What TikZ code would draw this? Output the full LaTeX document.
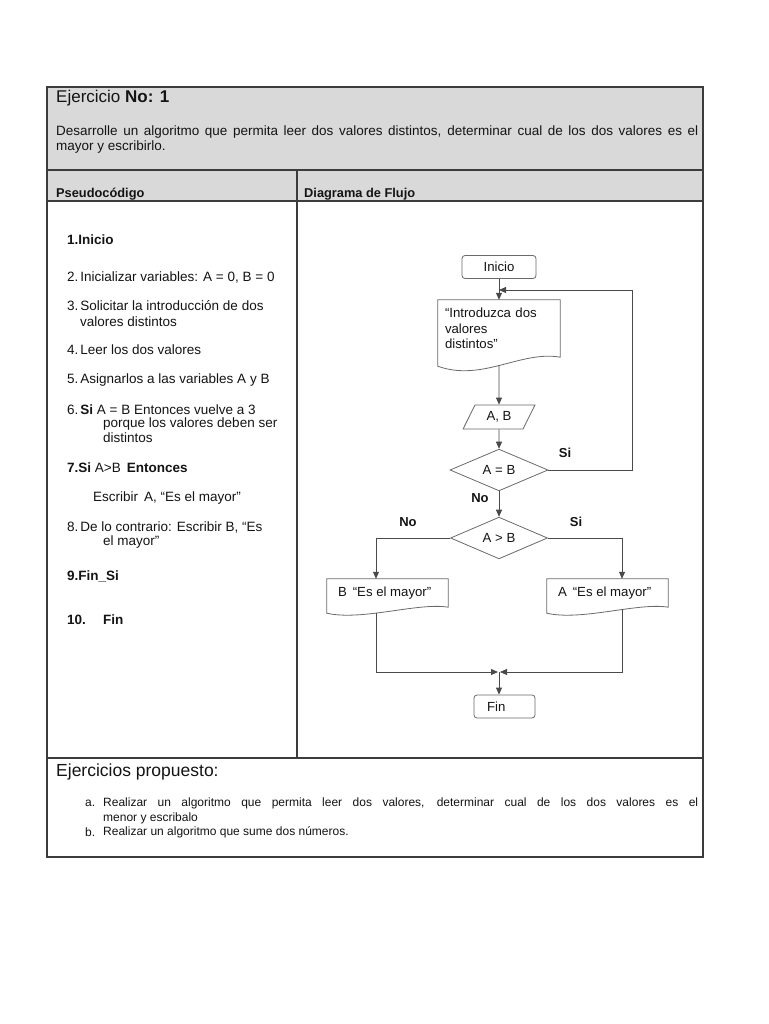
\documentclass[tikz,border=0pt]{standalone}
\usepackage{fontspec}
\setmainfont{Liberation Sans}
\usetikzlibrary{arrows.meta,shapes.geometric}
\definecolor{hdr}{HTML}{D9D9D9}
\definecolor{bord}{HTML}{3C3C3C}
\definecolor{ink}{HTML}{141414}
\definecolor{fl}{HTML}{4A4A4A}
\definecolor{sh}{HTML}{6A6A6A}
\begin{document}
\begin{tikzpicture}[x=1pt,y=-1pt,
  txt/.style={inner sep=0pt, anchor=west, text=ink},
  ps/.style={txt, font=\fontsize{13.5}{15}\selectfont},
  fct/.style={font=\fontsize{13.2}{15.5}\selectfont, text=ink},
  box/.style={draw=sh, line width=0.8pt, rounded corners=3pt, minimum height=23pt, inner sep=0pt, fct},
  dec/.style={draw=sh, line width=0.8pt, shape=diamond, inner sep=0pt, fct},
  io/.style={draw=sh, line width=0.8pt, trapezium, trapezium left angle=60, trapezium right angle=120, trapezium stretches=true, inner sep=0pt, fct},
  docn/.style={inner sep=0pt, fct},
  docline/.style={draw=sh, line width=0.8pt},
  arr/.style={draw=fl, line width=0.8pt, -{Triangle[length=7pt,width=6pt]}},
  lbl/.style={inner sep=0pt, text=ink, font=\fontsize{13}{15}\selectfont\bfseries}
]
\useasboundingbox (0,0) rectangle (768,1024);
\fill[white] (0,0) rectangle (768,1024);

% table
\fill[hdr] (47,87) rectangle (703,201);
\draw[bord, line width=1.3pt] (47,87) rectangle (703,857);
\draw[bord, line width=1.1pt] (47,170) -- (703,170) (47,201) -- (703,201) (47,758) -- (703,758) (297,170) -- (297,758);

% header texts
\node[txt, font=\fontsize{17}{20}\selectfont] (title) at (56,98) {Ejercicio \textbf{No: 1}};
\node[txt, font=\fontsize{13.5}{15}\selectfont] (d1) at (56,132) {\makebox[642pt][s]{Desarrolle un algoritmo que permita leer dos valores distintos, determinar cual de los dos valores es el}};
\node[txt, font=\fontsize{13.5}{15}\selectfont] (d2) at (56,147) {mayor y escribirlo.};
\node[txt, font=\fontsize{12.8}{15}\selectfont\bfseries] (h1) at (56,194) {Pseudocódigo};
\node[txt, font=\fontsize{12.8}{15}\selectfont\bfseries] (h2) at (304,194) {Diagrama de Flujo};

% pseudocode
\node[ps] (p1) at (67,240) {\textbf{1.Inicio}};
\node[ps] (p2) at (67,277) {2.\hspace{2pt}Inicializar variables: A = 0, B = 0};
\node[ps] (p3) at (67,306) {3.\hspace{2pt}Solicitar la introducción de dos};
\node[ps] (p3b) at (80,322) {valores distintos};
\node[ps] (p4) at (67,350) {4.\hspace{2pt}Leer los dos valores};
\node[ps] (p5) at (67,380) {5.\hspace{2pt}Asignarlos a las variables A y B};
\node[ps] (p6) at (67,410) {6.\hspace{2pt}\textbf{Si} A = B Entonces vuelve a 3};
\node[ps] (p6b) at (103,424) {porque los valores deben ser};
\node[ps] (p6c) at (103,438) {distintos};
\node[ps] (p7) at (67,468) {\textbf{7.Si} A>B\hspace{6pt}\textbf{Entonces}};
\node[ps] (p7b) at (93,498) {Escribir\hspace{6pt}A, “Es el mayor”};
\node[ps] (p8) at (67,527) {8.\hspace{2pt}De lo contrario: Escribir B, “Es};
\node[ps] (p8b) at (103,542) {el mayor”};
\node[ps] (p9) at (67,576) {\textbf{9.Fin\_Si}};
\node[ps] (p10) at (67,620) {\textbf{10.}};
\node[ps] (p10b) at (103,620) {\textbf{Fin}};

% flowchart nodes
\node[box, minimum width=74pt] (inicio) at (499,267) {Inicio};
\node[docn, minimum width=122pt, minimum height=57pt, text width=108pt, align=left] (doc1) at (499,328.5) {“Introduzca dos\\valores\\distintos”};
\draw[docline] (doc1.north west) -- (doc1.north east) -- (doc1.south east) .. controls +(-39,-7) and +(44,16) .. ([yshift=-9pt]doc1.south west) -- cycle;
\node[io, minimum width=72pt, minimum height=24pt] (ab) at (499,417) {A, B};
\node[dec, minimum width=98pt, minimum height=34pt] (eq) at (499,470) {A = B};
\node[dec, minimum width=97pt, minimum height=32pt] (gt) at (499,538) {A > B};
\node[docn, minimum width=121pt, minimum height=28pt] (bmax) at (387.5,593) {\makebox[99pt][l]{B\hspace{6pt}“Es el mayor”}};
\draw[docline] (bmax.north west) -- (bmax.north east) -- (bmax.south east) .. controls +(-30,-5) and +(35,8) .. ([yshift=-6pt]bmax.south west) -- cycle;
\node[docn, minimum width=121pt, minimum height=28pt] (amax) at (607.5,593) {\makebox[99pt][l]{A\hspace{6pt}“Es el mayor”}};
\draw[docline] (amax.north west) -- (amax.north east) -- (amax.south east) .. controls +(-30,-5) and +(35,8) .. ([yshift=-6pt]amax.south west) -- cycle;
\node[box, minimum width=61pt] (fin) at (504.5,706.5) {\makebox[35pt][l]{Fin}};

% connectors
\coordinate (m1) at (499,290);
\coordinate (lc) at (632,290);
\coordinate (mg) at (499,672);
\draw[arr] (inicio.south) -- (doc1.north);
\draw[arr] (eq.east) -| (lc) -- (m1);
\draw[arr] ([yshift=-8pt]doc1.south) -- (ab.north);
\draw[arr] (ab.south) -- (eq.north);
\draw[arr] (eq.south) -- (gt.north);
\draw[arr] (gt.west) -| ([xshift=-11.5pt]bmax.north);
\draw[arr] (gt.east) -| ([xshift=14.5pt]amax.north);
\draw[arr, shorten >=1pt] ([xshift=-11.5pt,yshift=-6pt]bmax.south) |- (mg);
\draw[arr, shorten >=1pt] ([xshift=14.5pt,yshift=-2pt]amax.south) |- (mg);
\draw[arr] (mg) -- (mg |- fin.north);

% labels
\node[lbl] (si1) at (565,453) {Si};
\node[lbl] (no1) at (480,498) {No};
\node[lbl] (no2) at (408,522) {No};
\node[lbl] (si2) at (576,522) {Si};

% bottom section
\node[txt, font=\fontsize{17.5}{20}\selectfont] (ep) at (56,772) {Ejercicios propuesto:};
\node[txt, font=\fontsize{12}{14}\selectfont] (ia) at (85,803) {a.};
\node[txt, font=\fontsize{12}{14}\selectfont] (ta) at (103,803) {\makebox[595pt][s]{Realizar un algoritmo que permita leer dos valores, determinar cual de los dos valores es el}};
\node[txt, font=\fontsize{12}{14}\selectfont] (ta2) at (103,818) {menor y escribalo};
\node[txt, font=\fontsize{12}{14}\selectfont] (ib) at (85,832) {b.};
\node[txt, font=\fontsize{12}{14}\selectfont] (tb) at (103,832) {Realizar un algoritmo que sume dos números.};
\end{tikzpicture}
\end{document}
